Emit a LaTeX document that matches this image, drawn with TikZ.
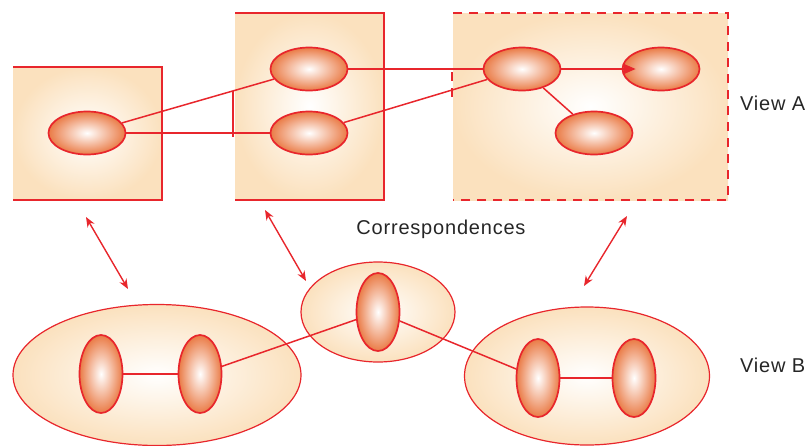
\documentclass[tikz,border=0pt]{standalone}
\usepackage{fontspec}
\setmainfont{Liberation Sans}
\newfontfamily\lblfont[LetterSpace=4]{Liberation Sans}
\usetikzlibrary{arrows.meta,shapes.geometric}
\definecolor{lred}{HTML}{E8262C}
\definecolor{boxout}{HTML}{FBE1BE}
\definecolor{inout}{HTML}{EA7B46}
\tikzset{
  panel/.style={rectangle, inner sep=0pt, outer sep=0pt, inner color=white, outer color=boxout},
  bigell/.style={ellipse, inner sep=0pt, draw=lred, line width=1.2pt, inner color=white, outer color=boxout},
  hnode/.style={ellipse, inner sep=0pt, draw=lred, line width=1.7pt, inner color=white, outer color=inout, minimum width=77pt, minimum height=43pt},
  vnode/.style={ellipse, inner sep=0pt, draw=lred, line width=1.7pt, inner color=white, outer color=inout, minimum width=43pt, minimum height=78pt},
  edgeln/.style={draw=lred, line width=1.5pt},
  corr/.style={draw=lred, line width=1.4pt, {Stealth[length=10pt,width=8pt]}-{Stealth[length=10pt,width=8pt]}},
  lbl/.style={font=\lblfont\fontsize{20}{23}\selectfont, text=black!85}
}
\begin{document}
\begin{tikzpicture}[x=1pt,y=-1pt]
\useasboundingbox (0,0) rectangle (806,445);
% View A panels
\node[panel, minimum width=149pt, minimum height=133pt] (b1) at (87.5,133.5) {};
\node[panel, minimum width=149pt, minimum height=187pt] (b2) at (309.5,106.5) {};
\node[panel, minimum width=275pt, minimum height=187pt] (b3) at (590.5,106.5) {};
\draw[edgeln, line width=1.3pt] (b1.north west) -- (b1.north east) -- (b1.south east) -- (b1.south west);
\draw[edgeln, line width=1.3pt] (b2.north west) -- (b2.north east) -- (b2.south east) -- (b2.south west);
\draw[edgeln, line width=1.5pt, dash pattern=on 9pt off 7pt] (b3.north west) -- (b3.north east) -- (b3.south east) -- (b3.south west);
\coordinate (v1) at (233,91);
\coordinate (v2) at (233,137);
\draw[edgeln, line width=1.2pt] (v1) -- (v2);
\coordinate (w1) at (452,72);
\coordinate (w2) at (452,97);
\draw[edgeln, line width=1.5pt, dash pattern=on 9pt off 7pt] (w1) -- (w2);

% View A inner nodes
\node[hnode] (a1) at (87,133) {};
\node[hnode] (a2) at (309,69) {};
\node[hnode] (a3) at (309,133) {};
\node[hnode] (a4) at (522,69) {};
\node[hnode] (a5) at (661,69) {};
\node[hnode] (a6) at (594,133) {};

% View B
\node[bigell, minimum width=288pt, minimum height=141pt] (g1) at (157,375) {};
\node[bigell, minimum width=154pt, minimum height=100pt] (g2) at (378,312) {};
\node[bigell, minimum width=245pt, minimum height=138pt] (g3) at (587,376) {};
\node[vnode] (c1) at (101,374) {};
\node[vnode] (c2) at (200,374) {};
\node[vnode] (c3) at (378,312) {};
\node[vnode] (c4) at (538,378) {};
\node[vnode] (c5) at (634,378) {};

% connectors View A
\draw[edgeln] (a1) -- (a2);
\draw[edgeln] (a1.east) -- (a3.west);
\draw[edgeln] (a2.east) -- (a4.west);
\draw[edgeln] (a3) -- (a4);
\draw[edgeln, -{Triangle[length=12pt,width=10pt]}] (a4.east) -- ([xshift=14pt]a5.west);
\draw[edgeln] (a4) -- (a6);

% connectors View B
\draw[edgeln] (c1.east) -- (c2.west);
\draw[edgeln] (c2) -- (c3);
\draw[edgeln] (c3) -- (c4);
\draw[edgeln] (c4.east) -- (c5.west);

% correspondences
\coordinate (p1) at (86,217);
\coordinate (q1) at (128,289);
\coordinate (p2) at (265,210);
\coordinate (q2) at (306,281);
\coordinate (p3) at (627,216);
\coordinate (q3) at (584,286);
\draw[corr] (p1) -- (q1);
\draw[corr] (p2) -- (q2);
\draw[corr] (p3) -- (q3);

% labels
\node[lbl, anchor=west, inner sep=0pt] (la) at (740,103) {View A};
\node[lbl, anchor=west, inner sep=0pt] (lb) at (740,365) {View B};
\node[lbl, inner sep=0pt] (lc) at (441,229) {Correspondences};
\end{tikzpicture}
\end{document}
